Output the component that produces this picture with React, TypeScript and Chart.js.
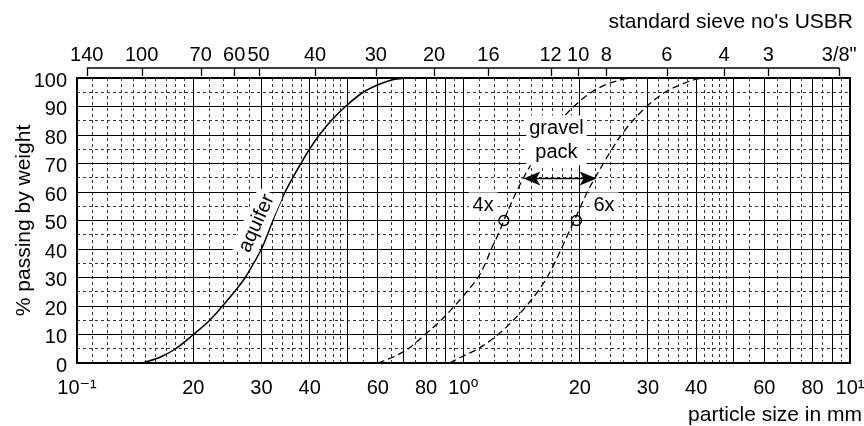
import React, { useEffect, useRef } from 'react';
import { Chart, registerables } from 'chart.js';

Chart.register(...registerables);

const FONT = "'Liberation Sans', Arial, Helvetica, 'DejaVu Sans', sans-serif";

// ---- data (particle size in mm, % passing by weight) ----
const aquiferSize = [0.148, 0.165, 0.18, 0.2, 0.2205, 0.238, 0.2555, 0.2725, 0.2865, 0.3, 0.311, 0.321, 0.3325, 0.3455, 0.3615, 0.3795, 0.3995, 0.4235, 0.4545, 0.495, 0.55, 0.61, 0.66, 0.71];
const aquiferPassing = [0, 2.2, 5, 10, 15, 20, 25, 30, 35, 40, 45, 50, 55, 60, 65, 70, 75, 80, 85, 90, 95, 98, 99.5, 100];

const pack4xSize = [0.6, 0.66, 0.72, 0.795, 0.875, 0.948, 1.02, 1.09, 1.14, 1.18, 1.228, 1.272, 1.318, 1.37, 1.43, 1.5, 1.58, 1.67, 1.78, 1.93, 2.14, 2.37, 2.58, 2.75];
const pack4xPassing = [0, 2.2, 5, 10, 15, 20, 25, 30, 35, 40, 45, 50, 55, 60, 65, 70, 75, 80, 85, 90, 95, 98, 99.5, 100];

const pack6xSize = [0.92, 0.99, 1.09, 1.23, 1.345, 1.455, 1.555, 1.645, 1.72, 1.79, 1.86, 1.935, 2.01, 2.09, 2.19, 2.3, 2.42, 2.56, 2.74, 2.98, 3.32, 3.7, 3.98, 4.25];
const pack6xPassing = [0, 2.2, 5, 10, 15, 20, 25, 30, 35, 40, 45, 50, 55, 60, 65, 70, 75, 80, 85, 90, 95, 98, 99.5, 100];

const d50Size = [1.272, 1.96];
const d50Passing = [50, 50];

// bottom axis labels
const bottomTickValues = [0.1, 0.2, 0.3, 0.4, 0.6, 0.8, 1, 2, 3, 4, 6, 8, 10];
const bottomTickLabels = ['10\u207B\u00B9', '20', '30', '40', '60', '80', '10\u2070', '20', '30', '40', '60', '80', '10\u00B9'];

// top axis: standard sieve numbers (USBR) at their openings in mm
const sieveSizes = [0.106, 0.147, 0.209, 0.255, 0.295, 0.413, 0.593, 0.839, 1.16, 1.68, 1.98, 2.34, 3.36, 4.72, 6.15, 9.38];
const sieveLabels = ['140', '100', '70', '60', '50', '40', '30', '20', '16', '12', '10', '8', '6', '4', '3', '3/8"'];

// y axis ticks
const yTickValues = [0, 5, 10, 15, 20, 25, 30, 35, 40, 45, 50, 55, 60, 65, 70, 75, 80, 85, 90, 95, 100];

// grid subdivision of each decade: [from, to, step]
const gridDecades = [0.1, 1];
const gridSegments = [[1, 2, 0.1], [2, 5, 0.2], [5, 10, 0.5]];

// annotations (data coordinates)
const arrowFrom = 1.428;
const arrowTo = 2.211;
const arrowLevel = 65;

function buildGridValues(): number[] {
  const out: number[] = [];
  for (const d of gridDecades) {
    for (const [a, b, s] of gridSegments) {
      const n = Math.round((b - a) / s);
      for (let i = 0; i < n; i++) out.push(+((a + i * s) * d).toFixed(5));
    }
  }
  out.push(10);
  return out;
}
const gridValues = buildGridValues();

function isMajor(v: number): boolean {
  const d = Math.pow(10, Math.floor(Math.log10(v) + 1e-9));
  const m = v / d;
  return Math.abs(m - Math.round(m)) < 1e-6;
}

function bottomLabel(v: number): string {
  const i = bottomTickValues.findIndex((t) => Math.abs(t - v) < t * 1e-6);
  return i >= 0 ? bottomTickLabels[i] : '';
}

const pts = (xs: number[], ys: number[]) => xs.map((x, i) => ({ x, y: ys[i] }));

function boxedText(ctx: CanvasRenderingContext2D, lines: string[], cx: number, cy: number, angleDeg: number, lineH: number, pad: number) {
  ctx.save();
  ctx.translate(cx, cy);
  ctx.rotate((angleDeg * Math.PI) / 180);
  let w = 0;
  for (const l of lines) w = Math.max(w, ctx.measureText(l).width);
  const h = lines.length * lineH;
  ctx.fillStyle = '#fff';
  ctx.fillRect(-w / 2 - pad, -h / 2 - 1, w + 2 * pad, h + 2);
  ctx.fillStyle = '#000';
  lines.forEach((l, i) => {
    ctx.fillText(l, 0, -h / 2 + lineH * (i + 0.5));
  });
  ctx.restore();
}

function arrowHead(ctx: CanvasRenderingContext2D, tipX: number, y: number, dir: number) {
  const len = 17;
  const half = 7;
  ctx.beginPath();
  ctx.moveTo(tipX, y);
  ctx.lineTo(tipX + dir * len, y - half);
  ctx.lineTo(tipX + dir * (len - 4), y);
  ctx.lineTo(tipX + dir * len, y + half);
  ctx.closePath();
  ctx.fill();
}

const overlayPlugin = {
  id: 'overlay',
  afterDatasetsDraw(chart: any) {
    const { ctx, chartArea: ca } = chart;
    const xs = chart.scales.x;
    const ys = chart.scales.y;
    ctx.save();
    ctx.font = `20px ${FONT}`;
    ctx.textAlign = 'center';
    ctx.textBaseline = 'middle';
    ctx.fillStyle = '#000';

    // aquifer label along the curve
    boxedText(ctx, ['aquifer'], xs.getPixelForValue(0.2917), ys.getPixelForValue(49), -66, 24, 3);
    // gravel pack label
    boxedText(ctx, ['gravel', 'pack'], xs.getPixelForValue(1.74), ys.getPixelForValue(78.1), 0, 24, 3);
    // 4x / 6x labels
    boxedText(ctx, ['4x'], xs.getPixelForValue(1.124), ys.getPixelForValue(55.3), 0, 24, 4);
    boxedText(ctx, ['6x'], xs.getPixelForValue(2.31), ys.getPixelForValue(55.3), 0, 24, 4);

    // double arrow between the two gravel-pack curves
    const ay = Math.round(ys.getPixelForValue(arrowLevel)) + 0.5;
    const ax1 = xs.getPixelForValue(arrowFrom);
    const ax2 = xs.getPixelForValue(arrowTo);
    ctx.strokeStyle = '#000';
    ctx.lineWidth = 1.6;
    ctx.beginPath();
    ctx.moveTo(ax1 + 10, ay);
    ctx.lineTo(ax2 - 10, ay);
    ctx.stroke();
    arrowHead(ctx, ax1, ay, 1);
    arrowHead(ctx, ax2, ay, -1);

    // frame
    ctx.lineWidth = 2;
    ctx.strokeRect(ca.left, ca.top, ca.right - ca.left, ca.bottom - ca.top);
    ctx.restore();
  },
  afterDraw(chart: any) {
    const { ctx, chartArea: ca } = chart;
    const xt = chart.scales.x2;
    ctx.save();
    ctx.strokeStyle = '#000';
    ctx.fillStyle = '#000';
    ctx.lineWidth = 1.3;
    // sieve axis bracket line and ticks
    const yLine = ca.top - 10;
    const first = xt.getPixelForValue(sieveSizes[0]);
    const last = xt.getPixelForValue(sieveSizes[sieveSizes.length - 1]);
    ctx.beginPath();
    ctx.moveTo(first, yLine);
    ctx.lineTo(last, yLine);
    for (const s of sieveSizes) {
      const p = Math.round(xt.getPixelForValue(s)) + 0.5;
      ctx.moveTo(p, yLine);
      ctx.lineTo(p, ca.top - 2);
    }
    ctx.stroke();

    // axis titles
    ctx.font = `21px ${FONT}`;
    ctx.textAlign = 'right';
    ctx.textBaseline = 'alphabetic';
    ctx.fillText("standard sieve no's USBR", ca.right + 3, 28);
    ctx.fillText('particle size in mm', ca.right + 12, ca.bottom + 58);
    ctx.restore();
  },
};

export default function App() {
  const ref = useRef<HTMLCanvasElement>(null);

  useEffect(() => {
    const canvas = ref.current;
    if (!canvas) return;
    Chart.defaults.font.family = FONT;
    Chart.defaults.font.size = 20;
    Chart.defaults.color = '#000';

    const chart = new Chart(canvas, {
      type: 'line',
      data: {
        datasets: [
          {
            label: 'aquifer',
            data: pts(aquiferSize, aquiferPassing),
            borderColor: '#000',
            borderWidth: 1.5,
            pointRadius: 0,
            cubicInterpolationMode: 'monotone',
            fill: false,
          },
          {
            label: 'gravel pack 4x',
            data: pts(pack4xSize, pack4xPassing),
            borderColor: '#000',
            borderWidth: 1.3,
            borderDash: [7, 4],
            pointRadius: 0,
            cubicInterpolationMode: 'monotone',
            fill: false,
          },
          {
            label: 'gravel pack 6x',
            data: pts(pack6xSize, pack6xPassing),
            borderColor: '#000',
            borderWidth: 1.3,
            borderDash: [7, 4],
            pointRadius: 0,
            cubicInterpolationMode: 'monotone',
            fill: false,
          },
          {
            label: 'D50',
            data: pts(d50Size, d50Passing),
            showLine: false,
            pointRadius: 5,
            pointBorderWidth: 1.3,
            pointBorderColor: '#000',
            pointBackgroundColor: 'rgba(0,0,0,0)',
          },
        ],
      },
      options: {
        responsive: false,
        animation: false,
        events: [],
        layout: { padding: { left: 0, right: 14, top: 0, bottom: 0 } },
        plugins: { legend: { display: false }, tooltip: { enabled: false } },
        scales: {
          x: {
            type: 'logarithmic',
            position: 'bottom',
            min: 0.1,
            max: 10,
            afterBuildTicks: (s: any) => {
              s.ticks = gridValues.map((v) => ({ value: v }));
            },
            afterFit: (s: any) => {
              s.height = 63;
              s.paddingLeft = 0;
              s.paddingRight = 0;
            },
            ticks: {
              autoSkip: false,
              maxRotation: 0,
              minRotation: 0,
              padding: 13,
              color: '#000',
              callback: (v: any) => bottomLabel(Number(v)),
            },
            grid: {
              drawTicks: false,
              lineWidth: 1,
              color: (c: any) => (c.tick && isMajor(c.tick.value) ? '#000' : '#333'),
            },
            border: {
              display: false,
              dash: (c: any) => (c.tick && !isMajor(c.tick.value) ? [3, 3] : []),
            },
          },
          x2: {
            type: 'logarithmic',
            position: 'top',
            min: 0.1,
            max: 10,
            afterBuildTicks: (s: any) => {
              s.ticks = sieveSizes.map((v) => ({ value: v }));
            },
            afterFit: (s: any) => {
              s.height = 78;
              s.paddingLeft = 0;
              s.paddingRight = 0;
            },
            ticks: {
              autoSkip: false,
              maxRotation: 0,
              minRotation: 0,
              padding: 11,
              color: '#000',
              callback: (_v: any, i: number) => sieveLabels[i],
            },
            grid: { display: false, drawTicks: false },
            border: { display: false },
          },
          y: {
            type: 'linear',
            min: 0,
            max: 100,
            afterBuildTicks: (s: any) => {
              s.ticks = yTickValues.map((v) => ({ value: v }));
            },
            afterFit: (s: any) => {
              s.width = 77;
              s.paddingTop = 0;
              s.paddingBottom = 0;
            },
            ticks: {
              autoSkip: false,
              padding: 10,
              labelOffset: 3,
              color: '#000',
              callback: (v: any) => (Number(v) % 10 === 0 ? String(v) : ''),
            },
            grid: {
              drawTicks: false,
              lineWidth: 1,
              color: (c: any) => (c.tick && c.tick.value % 10 !== 0 ? '#333' : '#000'),
            },
            border: {
              display: false,
              dash: (c: any) => (c.tick && c.tick.value % 10 !== 0 ? [3, 3] : []),
            },
            title: {
              display: true,
              text: '% passing by weight',
              color: '#000',
              font: { size: 21 },
              padding: { top: 12, bottom: 0 },
            },
          },
        },
      },
      plugins: [overlayPlugin],
    } as any);

    return () => chart.destroy();
  }, []);

  return (
    <div style={{ position: 'fixed', left: 0, top: 0, width: 864, height: 426, background: '#fff' }}>
      <canvas ref={ref} width={864} height={426} style={{ display: 'block' }} />
    </div>
  );
}
